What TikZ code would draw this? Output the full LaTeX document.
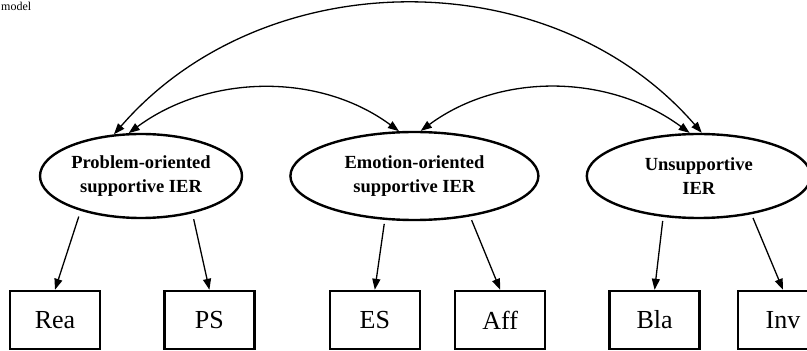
\documentclass[tikz,border=0pt]{standalone}
\usepackage{fontspec}
\setmainfont{Liberation Serif}
\usetikzlibrary{arrows.meta, positioning, shapes.geometric}

\begin{document}
\begin{tikzpicture}[
    x=1pt, y=1pt,
    node distance=46pt,
    factor/.style={
        ellipse,
        draw,
        line width=2.4pt,
        inner sep=0pt,
        minimum height=84pt,
        align=center,
        font=\fontsize{18.5}{24}\selectfont\bfseries
    },
    item/.style={
        rectangle,
        draw,
        line width=2.4pt,
        minimum width=90pt,
        minimum height=58pt,
        font=\fontsize{26}{30}\selectfont
    },
    link/.style={line width=1.3pt},
    >={Triangle[length=11pt, width=8pt]}
]
\useasboundingbox (0,0) rectangle (807,351);

% caption at the top edge
\node[anchor=base west, inner sep=0pt, font=\fontsize{12}{14}\selectfont] (cap) at (1,340) {model};

% latent factors
\node[factor, minimum width=202pt] (prob) at (141,175) {Problem-oriented\\supportive IER};
\node[factor, minimum width=248pt, minimum height=88pt, right=of prob] (emo) {Emotion-oriented\\supportive IER};
\node[factor, minimum width=224pt, right=of emo] (unsup) {Unsupportive\\IER};

% indicators
\node[item] (rea) at (55,31) {Rea};
\node[item, right=62pt of rea] (ps) {PS};
\node[item, right=73pt of ps] (es) {ES};
\node[item, right=33pt of es] (aff) {Aff};
\node[item, right=62pt of aff] (bla) {Bla};
\node[item, right=36pt of bla] (inv) {Inv};

\draw[->, link, shorten <=6pt] (prob.-150) -- (rea.north);
\draw[->, link, shorten <=6pt] (prob.-36) -- (ps.north);
\draw[->, link, shorten <=4pt] (emo.-124) -- (es.north);
\draw[->, link, shorten <=4pt] (emo.-36) -- (aff.north);
\draw[->, link, shorten <=4pt] (unsup.-131) -- (bla.north);
\draw[->, link, shorten <=4pt] (unsup.-36) -- (inv.north);

% correlations
\draw[<->, link] (prob.123) .. controls +(150,173) and +(-150,173) .. (unsup.86);
\draw[<->, link] (prob.106) .. controls +(80,59) and +(-80,59) .. (emo.109);
\draw[<->, link] (emo.82) .. controls +(80,59) and +(-80,59) .. (unsup.102);

\end{tikzpicture}
\end{document}
